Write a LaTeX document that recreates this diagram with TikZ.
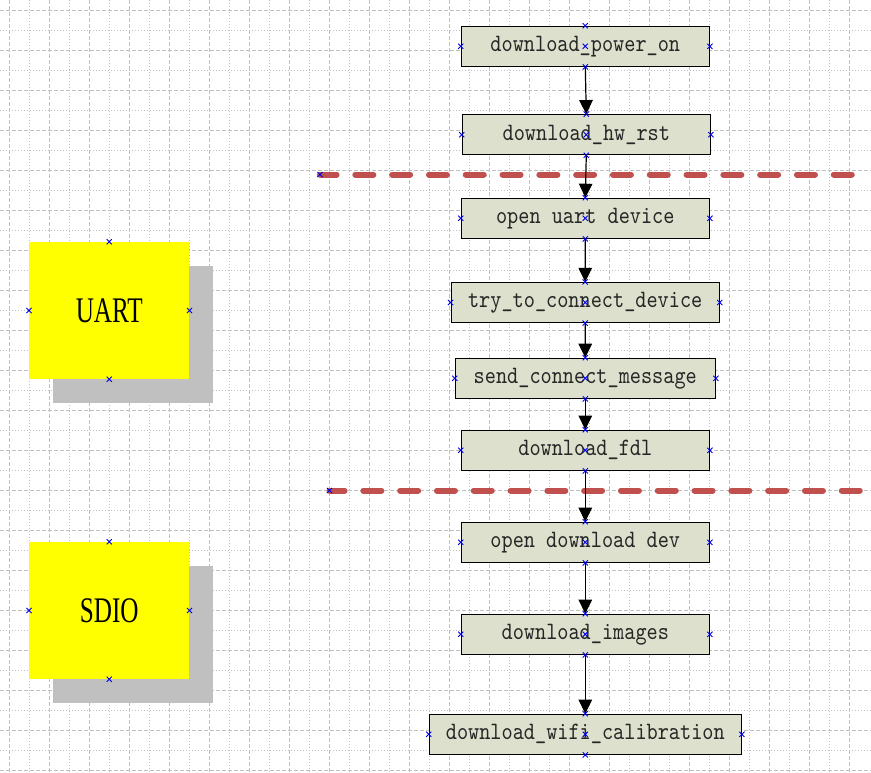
\documentclass[tikz,border=0pt]{standalone}
\usepackage{fontspec}
\usetikzlibrary{arrows.meta}
\newfontfamily\boxfont{lmmono10-regular}[Extension=.otf, FakeStretch=0.85]
\newfontfamily\bigfont[FakeStretch=0.7]{Liberation Serif}
\definecolor{gridc}{RGB}{192,192,192}
\definecolor{boxfill}{RGB}{221,224,204}
\definecolor{redline}{RGB}{192,80,77}
\definecolor{shadowc}{RGB}{192,192,192}
\definecolor{yel}{RGB}{255,255,0}
\definecolor{markc}{RGB}{0,0,230}
\tikzset{
  gmajor/.style={gridc, line width=1pt, dash pattern=on 4pt off 2pt},
  gminor/.style={gridc, line width=1pt, dash pattern=on 1pt off 2pt},
  procbox/.style={draw=black, line width=1.2pt, fill=boxfill, minimum height=40pt,
    inner sep=0pt, font=\boxfont\fontsize{25}{27}\selectfont, text=black!85},
  ybox/.style={fill=yel, minimum width=160pt, minimum height=137pt, inner sep=0pt,
    font=\bigfont\fontsize{36}{40}\selectfont},
  shbox/.style={fill=shadowc, minimum width=160pt, minimum height=137pt, inner sep=0pt},
  sepline/.style={redline, line width=6pt, line cap=round, dash pattern=on 18pt off 18.8pt},
  flow/.style={draw=black, line width=1.2pt, -{Triangle[width=13.5pt,length=14pt]}},
  xm/.pic={\draw[markc, line width=0.9pt] (-2.6,-2.6)--(2.6,2.6) (-2.6,2.6)--(2.6,-2.6);}
}
\newcommand\boxmarks[1]{\foreach \a in {north,south,east,west,center} {\pic at (#1.\a) {xm};}}
\newcommand\sidemarks[1]{\foreach \a in {north,south,east,west} {\pic at (#1.\a) {xm};}}
\begin{document}
\begin{tikzpicture}[x=1pt,y=-1pt]
\useasboundingbox (0,0) rectangle (871,772);
\fill[white] (0,0) rectangle (871,772);
% grid
\foreach \x in {29.5,69.5,...,849.5} {\draw[gminor] (\x,0) -- (\x,772);}
\foreach \y in {30.5,70.5,...,750.5} {\draw[gminor] (0,\y) -- (871,\y);}
\foreach \x in {9.5,49.5,...,869.5} {\draw[gmajor] (\x,0) -- (\x,772);}
\foreach \y in {10.5,50.5,...,770.5} {\draw[gmajor] (0,\y) -- (871,\y);}

% yellow boxes with shadows
\node[shbox] (uartsh) at (133.3,334.5) {};
\node[ybox] (uart) at (109.3,310.5) {UART};
\node[shbox] (sdiosh) at (133.3,634.5) {};
\node[ybox] (sdio) at (109.3,610.5) {SDIO};

% process boxes
\node[procbox, minimum width=248pt] (pwr) at (585.3,46.3) {download\_power\_on};
\node[procbox, minimum width=248pt] (hw) at (586.3,134.7) {download\_hw\_rst};
\node[procbox, minimum width=248pt] (uartdev) at (585.3,218.3) {open uart device};
\node[procbox, minimum width=268pt] (try) at (585.2,302.5) {try\_to\_connect\_device};
\node[procbox, minimum width=260pt] (send) at (585.3,378.3) {send\_connect\_message};
\node[procbox, minimum width=248pt] (fdl) at (585.3,450.3) {download\_fdl};
\node[procbox, minimum width=248pt] (opendl) at (585.3,542.3) {open download dev};
\node[procbox, minimum width=248pt] (images) at (585.3,634.3) {download\_images};
\node[procbox, minimum width=312pt] (wifi) at (585.3,734.3) {download\_wifi\_calibration};

% separator lines
\coordinate (r1a) at (320,174.5);
\coordinate (r1b) at (853,174.5);
\coordinate (r2a) at (329.5,490.5);
\coordinate (r2b) at (861,490.5);
\draw[sepline, dash phase=1.45pt] (r1a) -- (r1b);
\draw[sepline, dash phase=2.95pt] (r2a) -- (r2b);

% connectors
\draw[flow] (pwr.south) -- (hw.north);
\draw[flow] (hw.south) -- (uartdev.north);
\draw[flow] (uartdev.south) -- (try.north);
\draw[flow] (try.south) -- (send.north);
\draw[flow] (send.south) -- (fdl.north);
\draw[flow] (fdl.south) -- (opendl.north);
\draw[flow] (opendl.south) -- (images.north);
\draw[flow] (images.south) -- (wifi.north);

% connection point markers
\boxmarks{pwr}
\boxmarks{hw}
\boxmarks{uartdev}
\boxmarks{try}
\boxmarks{send}
\boxmarks{fdl}
\boxmarks{opendl}
\boxmarks{images}
\boxmarks{wifi}
\sidemarks{uart}
\sidemarks{sdio}
\pic at (r1a) {xm};
\pic at (r2a) {xm};
\end{tikzpicture}
\end{document}
